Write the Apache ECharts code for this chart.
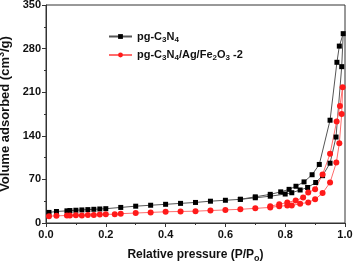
<!DOCTYPE html>
<html><head><meta charset="utf-8">
<script src="https://cdn.jsdelivr.net/npm/echarts@6/dist/echarts.min.js"></script>
<style>html,body{margin:0;padding:0;background:#fff}#c{width:354px;height:262px}</style>
</head><body><div id="c"></div>
<script>
// pg-C3N4: adsorption branch then desorption branch
const blackAdsP = [0.01,0.035,0.07,0.08,0.1,0.12,0.14,0.16,0.18,0.2,0.25,0.3,0.35,0.4,0.45,0.5,0.55,0.6,0.65,0.7,0.75,0.8,0.822,0.85,0.875,0.902,0.925,0.95,0.97,0.989,0.994];
const blackAdsV = [17,18.5,19.5,20,20.5,21,21.5,22,22.5,23,25,27,28.5,30,31.5,33,35,36.5,38,40.5,43,46.5,48.6,53,57,65,76,96,138,251,304];
const blackDesP = [0.981,0.973,0.95,0.914,0.89,0.863,0.836,0.813,0.785,0.75,0.7,0.65];
const blackDesV = [284,258,165,94,77.5,66,59,54,50,46,42,38];
// pg-C3N4/Ag/Fe2O3 -2
const redAdsP = [0.01,0.035,0.07,0.08,0.1,0.12,0.14,0.16,0.18,0.2,0.23,0.25,0.3,0.35,0.4,0.45,0.5,0.55,0.6,0.65,0.7,0.75,0.78,0.807,0.822,0.85,0.877,0.9,0.925,0.95,0.971,0.981,0.989,0.992];
const redAdsV = [11,11.5,12,12,12.5,12,13,13,13.5,14,14,15,16,17,18,18.5,19,20,21,22,23.5,25,27,28,28,31,33,38,48,65,97,128,175,218];
const redDesP = [0.983,0.972,0.95,0.925,0.9,0.877,0.86,0.835,0.807,0.78,0.75];
const redDesV = [188,163,111,78,54,49,41,36,33,30,27];
const yTicks = [0,70,140,210,280,350];
const seriesNames = ['pg-C3N4','pg-C3N4/Ag/Fe2O3 -2'];

function pairs(p, v){ return p.map((x,i)=>[x, v[i]]); }
const blackData = pairs(blackAdsP, blackAdsV).concat(pairs(blackDesP, blackDesV));
const redData = pairs(redAdsP, redAdsV).concat(pairs(redDesP, redDesV));

const F = 'Liberation Sans, Arial, sans-serif';
const chart = echarts.init(document.getElementById('c'));
chart.setOption({
  animation: false,
  grid: {left: 46, right: 9, top: 5, bottom: 39, show: true, borderColor: '#333', borderWidth: 1,
         containLabel: false, outerBoundsMode: 'none'},
  legend: {
    left: 108, top: 31, padding: 0, orient: 'vertical', itemGap: 6, itemWidth: 23, itemHeight: 6,
    data: seriesNames,
    formatter: function(n){
      if (n === seriesNames[0]) return '{a|pg-C}{s|3}{a|N}{s|4}';
      return '{a|pg-C}{s|3}{a|N}{s|4}{a|/Ag/Fe}{s|2}{a|O}{s|3}{a| -2}';
    },
    textStyle: {
      rich: {
        a: {fontFamily: F, fontWeight: 'bold', fontSize: 11, color: '#111'},
        s: {fontFamily: F, fontWeight: 'bold', fontSize: 8, color: '#111', verticalAlign: 'bottom', padding: [6,0,0,0]}
      }
    }
  },
  xAxis: {
    type: 'value', min: 0, max: 1, interval: 0.2,
    axisLine: {lineStyle: {color: '#333', width: 1}},
    axisTick: {show: true, length: 4, lineStyle: {color: '#333'}},
    minorTick: {show: true, splitNumber: 2, length: 2, lineStyle: {color: '#333'}},
    splitLine: {show: false},
    axisLabel: {fontFamily: F, fontWeight: 'bold', fontSize: 11, color: '#111', margin: 6,
      formatter: v => v.toFixed(1)},
    name: '{a|Relative pressure (P/P}{s|o}{a|)}', nameLocation: 'middle', nameGap: 24,
    nameTextStyle: {rich: {
      a: {fontFamily: F, fontWeight: 'bold', fontSize: 12, color: '#111'},
      s: {fontFamily: F, fontWeight: 'bold', fontSize: 9, color: '#111', padding: [7,0,0,0]}
    }}
  },
  yAxis: {
    type: 'value', min: yTicks[0], max: yTicks[yTicks.length-1], interval: 70,
    axisLine: {show: true, lineStyle: {color: '#333', width: 1}},
    axisTick: {show: true, length: 4, lineStyle: {color: '#333'}},
    minorTick: {show: true, splitNumber: 2, length: 2, lineStyle: {color: '#333'}},
    splitLine: {show: false},
    axisLabel: {fontFamily: F, fontWeight: 'bold', fontSize: 11, color: '#111', margin: 5},
    name: '{a|Volume adsorbed (cm}{s|3}{a|/g)}', nameLocation: 'middle', nameGap: 31, nameRotate: 90,
    nameTextStyle: {rich: {
      a: {fontFamily: F, fontWeight: 'bold', fontSize: 13, color: '#111'},
      s: {fontFamily: F, fontWeight: 'bold', fontSize: 9, color: '#111', padding: [0,0,7,0]}
    }}
  },
  series: [
    {name: seriesNames[0], type: 'line', data: blackData, symbol: 'rect', symbolSize: 5,
     itemStyle: {color: '#000'}, lineStyle: {color: '#555', width: 1}},
    {name: seriesNames[1], type: 'line', data: redData, symbol: 'circle', symbolSize: 6,
     itemStyle: {color: '#ff1a1a'}, lineStyle: {color: '#ff6b6b', width: 1}}
  ]
});
</script></body></html>
